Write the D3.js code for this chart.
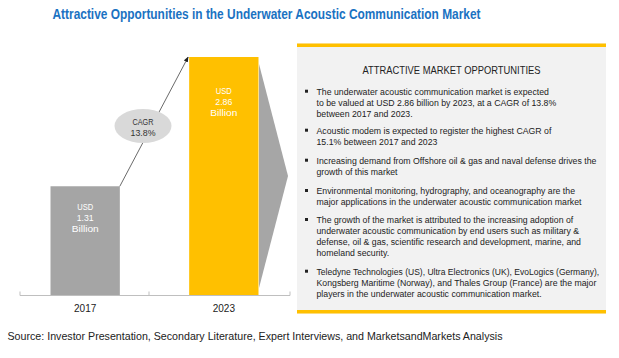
<!DOCTYPE html>
<html><head><meta charset="utf-8">
<script src="https://cdn.jsdelivr.net/npm/d3@7"></script>
<style>body{margin:0;background:#fff}svg{display:block}</style>
</head><body>
<svg id="c" width="619" height="358"></svg>
<script>
const years = ["2017", "2023"];
const values = [1.31, 2.86];
const barColors = ["#a5a5a5", "#ffc000"];
const cagrText = ["CAGR", "13.8%"];
const titleText = "Attractive Opportunities in the Underwater Acoustic Communication Market";
const panelTitle = "ATTRACTIVE MARKET OPPORTUNITIES";
const bullets = [
  ["The underwater acoustic communication market is expected", "to be valued at USD 2.86 billion by 2023, at a CAGR of 13.8%", "between 2017 and 2023."],
  ["Acoustic modem is expected to register the highest CAGR of", "15.1% between 2017 and 2023"],
  ["Increasing demand from Offshore oil & gas and naval defense drives the", "growth of this market"],
  ["Environmental monitoring, hydrography, and oceanography are the", "major applications in the underwater acoustic communication market"],
  ["The growth of the market is attributed to the increasing adoption of", "underwater acoustic communication by end users such as military &", "defense, oil & gas, scientific research and development, marine, and", "homeland security."],
  ["Teledyne Technologies (US), Ultra Electronics (UK), EvoLogics (Germany),", "Kongsberg Maritime (Norway), and Thales Group (France) are the major", "players in the underwater acoustic communication market."]
];
const sourceText = "Source: Investor Presentation, Secondary Literature, Expert Interviews, and MarketsandMarkets Analysis";

const svg = d3.select("#c");
const font = "'Liberation Sans', Arial, sans-serif";

// Title
svg.append("text").attr("x", 266.5).attr("y", 19).attr("text-anchor", "middle")
  .attr("font-family", font).attr("font-weight", "bold").attr("font-size", 14.5)
  .attr("fill", "#1a72c2").attr("textLength", 428).attr("lengthAdjust", "spacingAndGlyphs")
  .text(titleText);

// Bar chart
const x = d3.scaleBand().domain(years).range([20, 289]).paddingInner(0.5).paddingOuter(0.22);
const y = d3.scaleLinear().domain([0, 2.86]).range([295.5, 57]);

svg.selectAll("rect.bar").data(values).join("rect").attr("class", "bar")
  .attr("x", (d, i) => x(years[i])).attr("width", x.bandwidth())
  .attr("y", d => y(d)).attr("height", d => y(0) - y(d))
  .attr("fill", (d, i) => barColors[i]);

// axis
const axisG = svg.append("g").attr("transform", `translate(0,${y(0)})`);
axisG.append("line").attr("x1", 20).attr("x2", 290).attr("stroke", "#bfbfbf").attr("stroke-width", 1);
[20, 149, 290].forEach(t => axisG.append("line").attr("x1", t).attr("x2", t).attr("y1", 0).attr("y2", -4).attr("stroke", "#bfbfbf"));
svg.selectAll("text.yr").data(years).join("text").attr("class", "yr")
  .attr("x", d => x(d) + x.bandwidth() / 2).attr("y", 311.5).attr("text-anchor", "middle")
  .attr("font-family", font).attr("font-size", 10).attr("fill", "#222").text(d => d);

// bar value labels
values.forEach((v, i) => {
  const cx = x(years[i]) + x.bandwidth() / 2;
  const top = i === 0 ? y(v) + 23.5 : y(v) + 36.5;
  ["USD", v.toFixed(2), "Billion"].forEach((s, j) => {
    svg.append("text").attr("x", cx).attr("y", top + j * 11).attr("text-anchor", "middle")
      .attr("font-family", font).attr("font-size", 9).attr("fill", "#fff")
      .attr("textLength", s === "Billion" ? 27 : (s === "USD" ? 16 : 17)).attr("lengthAdjust", "spacingAndGlyphs")
      .text(s);
  });
});

// arrow
svg.append("defs").append("marker").attr("id", "ah").attr("viewBox", "0 0 10 10")
  .attr("refX", 9).attr("refY", 5).attr("markerWidth", 7).attr("markerHeight", 7).attr("orient", "auto")
  .append("path").attr("d", "M0,1 L10,5 L0,9 Z").attr("fill", "#222");
const x0 = x(years[0]) + x.bandwidth(), y0 = y(values[0]);
const x1 = x(years[1]) - 1, y1 = y(values[1]);
svg.append("line").attr("x1", x0).attr("y1", y0).attr("x2", x1).attr("y2", y1)
  .attr("stroke", "#444").attr("stroke-width", 0.8).attr("marker-end", "url(#ah)");

// CAGR ellipse
svg.append("ellipse").attr("cx", 143).attr("cy", 126).attr("rx", 28.5).attr("ry", 17).attr("fill", "#d9d9d9");
cagrText.forEach((s, j) => svg.append("text").attr("x", 143).attr("y", 124.5 + j * 11).attr("text-anchor", "middle")
  .attr("font-family", font).attr("font-size", 9.5).attr("fill", "#333")
  .attr("textLength", j === 0 ? 21 : 25).attr("lengthAdjust", "spacingAndGlyphs").text(s));

// chevron
svg.append("path").attr("d", "M259,64 L288,176 L259,288 Z").attr("fill", "#a6a6a6");

// panel
svg.append("rect").attr("x", 297).attr("y", 43.5).attr("width", 309).attr("height", 270).attr("fill", "#f2f2f2");
svg.append("rect").attr("x", 297).attr("y", 43.5).attr("width", 309).attr("height", 3.5).attr("fill", "#ffc000");
svg.append("rect").attr("x", 297).attr("y", 310).attr("width", 309).attr("height", 3.5).attr("fill", "#ffc000");

svg.append("text").attr("x", 451.5).attr("y", 73.5).attr("text-anchor", "middle")
  .attr("font-family", font).attr("font-size", 11).attr("fill", "#222")
  .attr("textLength", 178).attr("lengthAdjust", "spacingAndGlyphs").text(panelTitle);

const bulletTops = [91.7, 130.7, 160.7, 191, 220, 271.7];
const lineH = 11;
bullets.forEach((lines, i) => {
  svg.append("rect").attr("x", 305).attr("y", bulletTops[i] - 2).attr("width", 3).attr("height", 3).attr("fill", "#222");
});
// bullet text, each line horizontally condensed (narrow face look)
const lineNodes = [];
bullets.forEach((lines, i) => {
  lines.forEach((s, j) => {
    const t = svg.append("text").attr("class", "bt").attr("x", 0).attr("y", bulletTops[i] + j * lineH + 3.3)
      .attr("font-family", font).attr("font-size", 9.3).attr("fill", "#222").text(s);
    lineNodes.push(t);
  });
});
const refNode = lineNodes.find(t => t.text().startsWith("Increasing")).node();
const k = 280 / refNode.getComputedTextLength();
lineNodes.forEach(t => {
  const w = t.node().getComputedTextLength();
  const s = Math.min(k, 283 / w);
  t.attr("transform", `translate(316.5,0) scale(${s},1)`);
});

// source
svg.append("text").attr("x", 7.5).attr("y", 340).attr("font-family", font).attr("font-size", 11.5)
  .attr("fill", "#222").attr("textLength", 495).attr("lengthAdjust", "spacingAndGlyphs").text(sourceText);
</script>
</body></html>
